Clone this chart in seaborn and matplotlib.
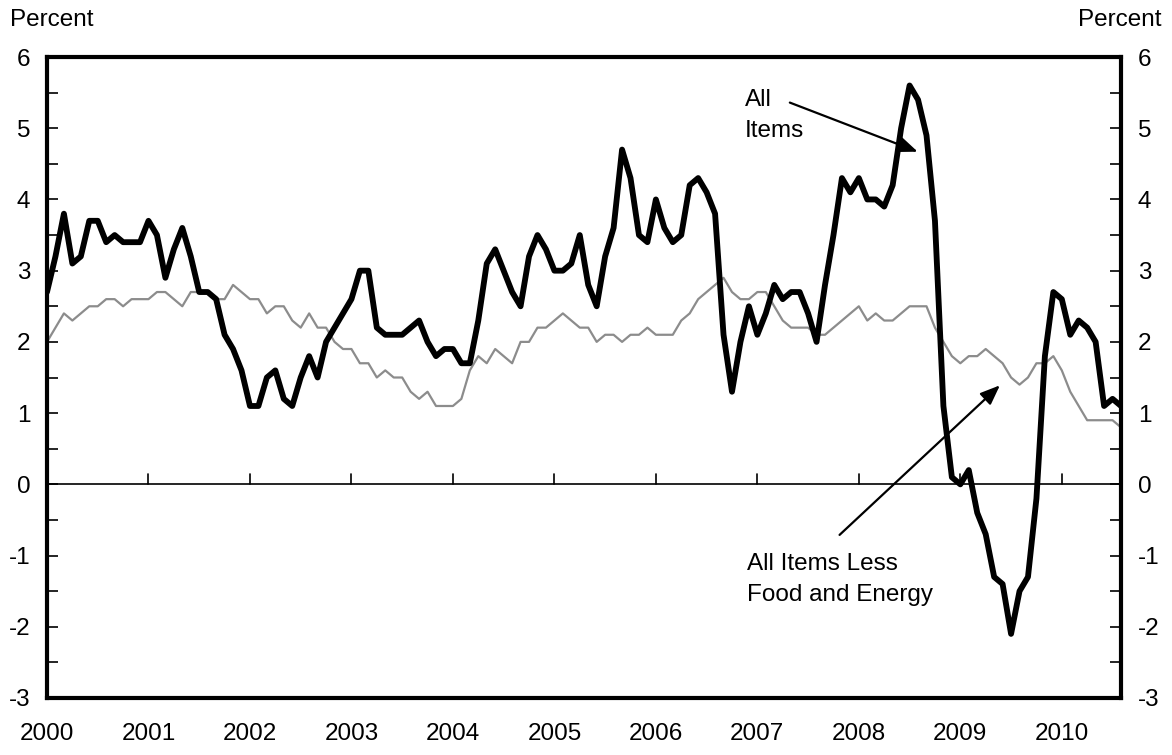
import numpy as np
import pandas as pd
import matplotlib
matplotlib.use("Agg")
import matplotlib.pyplot as plt
import seaborn as sns

all_items = [
    2.7, 3.2, 3.8, 3.1, 3.2, 3.7, 3.7, 3.4, 3.5, 3.4, 3.4, 3.4,
    3.7, 3.5, 2.9, 3.3, 3.6, 3.2, 2.7, 2.7, 2.6, 2.1, 1.9, 1.6,
    1.1, 1.1, 1.5, 1.6, 1.2, 1.1, 1.5, 1.8, 1.5, 2.0, 2.2, 2.4,
    2.6, 3.0, 3.0, 2.2, 2.1, 2.1, 2.1, 2.2, 2.3, 2.0, 1.8, 1.9,
    1.9, 1.7, 1.7, 2.3, 3.1, 3.3, 3.0, 2.7, 2.5, 3.2, 3.5, 3.3,
    3.0, 3.0, 3.1, 3.5, 2.8, 2.5, 3.2, 3.6, 4.7, 4.3, 3.5, 3.4,
    4.0, 3.6, 3.4, 3.5, 4.2, 4.3, 4.1, 3.8, 2.1, 1.3, 2.0, 2.5,
    2.1, 2.4, 2.8, 2.6, 2.7, 2.7, 2.4, 2.0, 2.8, 3.5, 4.3, 4.1,
    4.3, 4.0, 4.0, 3.9, 4.2, 5.0, 5.6, 5.4, 4.9, 3.7, 1.1, 0.1,
    0.0, 0.2, -0.4, -0.7, -1.3, -1.4, -2.1, -1.5, -1.3, -0.2, 1.8, 2.7,
    2.6, 2.1, 2.3, 2.2, 2.0, 1.1, 1.2, 1.1,
]
core = [
    2.0, 2.2, 2.4, 2.3, 2.4, 2.5, 2.5, 2.6, 2.6, 2.5, 2.6, 2.6,
    2.6, 2.7, 2.7, 2.6, 2.5, 2.7, 2.7, 2.7, 2.6, 2.6, 2.8, 2.7,
    2.6, 2.6, 2.4, 2.5, 2.5, 2.3, 2.2, 2.4, 2.2, 2.2, 2.0, 1.9,
    1.9, 1.7, 1.7, 1.5, 1.6, 1.5, 1.5, 1.3, 1.2, 1.3, 1.1, 1.1,
    1.1, 1.2, 1.6, 1.8, 1.7, 1.9, 1.8, 1.7, 2.0, 2.0, 2.2, 2.2,
    2.3, 2.4, 2.3, 2.2, 2.2, 2.0, 2.1, 2.1, 2.0, 2.1, 2.1, 2.2,
    2.1, 2.1, 2.1, 2.3, 2.4, 2.6, 2.7, 2.8, 2.9, 2.7, 2.6, 2.6,
    2.7, 2.7, 2.5, 2.3, 2.2, 2.2, 2.2, 2.1, 2.1, 2.2, 2.3, 2.4,
    2.5, 2.3, 2.4, 2.3, 2.3, 2.4, 2.5, 2.5, 2.5, 2.2, 2.0, 1.8,
    1.7, 1.8, 1.8, 1.9, 1.8, 1.7, 1.5, 1.4, 1.5, 1.7, 1.7, 1.8,
    1.6, 1.3, 1.1, 0.9, 0.9, 0.9, 0.9, 0.8,
]
years = list(range(2000, 2011))
y_ticks = list(range(-3, 7))

n = len(all_items)
t = 2000 + np.arange(n) / 12.0
df = pd.DataFrame({"t": t, "all": all_items, "core": core})

sns.set_theme(style="white")
plt.rcParams["font.family"] = ["Liberation Sans", "DejaVu Sans"]
plt.rcParams["axes.unicode_minus"] = False
plt.rcParams["text.color"] = "black"

FS = 17.5

fig = plt.figure(figsize=(11.72, 7.55), dpi=100)
ax = fig.add_axes([47 / 1172, 1 - 698 / 755, (1121 - 47) / 1172, (698 - 57) / 755])

sns.lineplot(data=df, x="t", y="core", ax=ax, color="#8c8c8c", linewidth=1.6)
sns.lineplot(data=df, x="t", y="all", ax=ax, color="black", linewidth=4.2)

ax.axhline(0, color="black", linewidth=1.2, zorder=1)

xmax = t[-1]
ax.set_xlim(2000, xmax)
ax.set_ylim(-3, 6)
ax.set_xlabel("")
ax.set_ylabel("")

for s in ax.spines.values():
    s.set_linewidth(3)
    s.set_color("black")

ax.set_yticks(y_ticks)
ax.set_yticks(np.arange(-3, 6.01, 0.5), minor=True)
ax.tick_params(axis="y", which="both", direction="in", left=True, right=True,
               labelleft=True, labelright=True, length=8, width=1.2,
               labelsize=FS, pad=12, colors="black", labelcolor="black")

ax.set_xticks(years)
ax.set_xticklabels([str(y) for y in years])
ax.tick_params(axis="x", which="both", bottom=False, top=False, labelsize=FS, pad=12,
               colors="black", labelcolor="black")
for yr in years[1:]:
    ax.plot([yr, yr], [0, 0.14], color="black", linewidth=1.2, zorder=2)

fig.text(10 / 1172, 1 - 20 / 755, "Percent", fontsize=FS, ha="left", va="center",
         color="black")
fig.text(1162 / 1172, 1 - 20 / 755, "Percent", fontsize=FS, ha="right", va="center",
         color="black")

arrow = dict(arrowstyle="-|>,head_length=1.0,head_width=0.4", color="black", lw=1.6,
             shrinkA=0, shrinkB=0)
ax.text(2006.88, 5.55, "All\nItems", fontsize=FS, ha="left", va="top",
        linespacing=1.55, color="black")
ax.annotate("", xy=(2008.58, 4.67), xytext=(2007.32, 5.36), arrowprops=arrow)
ax.text(2006.90, -0.96, "All Items Less\nFood and Energy", fontsize=FS, ha="left",
        va="top", linespacing=1.55, color="black")
ax.annotate("", xy=(2009.39, 1.39), xytext=(2007.81, -0.71), arrowprops=arrow)

fig.savefig("out.png", dpi=100)
